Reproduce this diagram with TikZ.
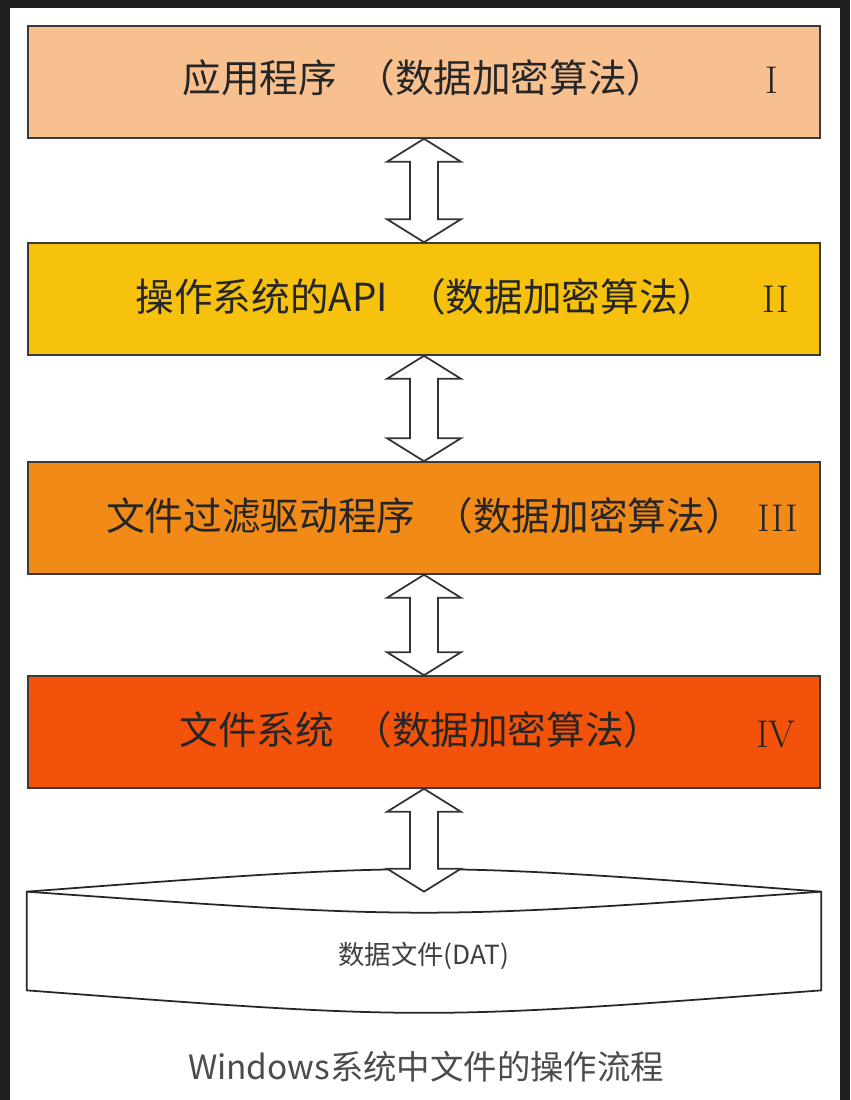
\documentclass[tikz,border=0pt]{standalone}
\usepackage{fontspec}
\newfontfamily\cjk{Noto Sans CJK SC}
\usetikzlibrary{calc}
\definecolor{layerA}{HTML}{F8C08F}
\definecolor{layerB}{HTML}{F6C20E}
\definecolor{layerC}{HTML}{F28A18}
\definecolor{layerD}{HTML}{F2520A}
\definecolor{edge}{HTML}{3A3A3A}
\begin{document}
\begin{tikzpicture}[x=0.02cm,y=-0.02cm]

\tikzstyle{layer}=[draw=edge, line width=0.9pt, minimum width=15.84cm, minimum height=2.24cm, inner sep=0pt]
\tikzstyle{title}=[font=\cjk\fontsize{22}{26}\selectfont, text=black!85]
\tikzstyle{num}=[font=\fontsize{22}{26}\selectfont, text=black!85]
\tikzstyle{twoway}=[draw=black!80, line width=1pt, fill=white, line join=miter]

% frame
\fill[black!88] (0,0) rectangle (850,1100);
\fill[white] (10,8) rectangle (840,1100);

\node [layer, fill=layerA] (app) at (424,82) {};
\node [layer, fill=layerB] (api) at (424,299) {};
\node [layer, fill=layerC] (flt) at (424,518) {};
\node [layer, fill=layerD] (fs) at (424,732) {};
\node [minimum width=15.88cm, minimum height=1.96cm, inner sep=0pt] (dat) at (424,941) {};

\node [title] at (424,78) {应用程序\hspace{0.5em}（数据加密算法）};
\node [title] at (426,297) {操作系统的API\hspace{0.5em}（数据加密算法）};
\node [title] at (425,516) {文件过滤驱动程序\hspace{0.5em}（数据加密算法）};
\node [title] at (421,730) {文件系统\hspace{0.5em}（数据加密算法）};
\node [num] at (772,80) {I};
\node [num] at (776,299) {II};
\node [num] at (778,518) {III};
\node [num] at (776,735) {IV};

% file shape
\draw[draw=black!85, line width=1pt, fill=white] (dat.north west) .. controls ($(dat.north)+(0,-30)$) .. (dat.north east)
  -- (dat.south east) .. controls ($(dat.south)+(0,30)$) .. (dat.south west) -- cycle;
\draw[black!85, line width=1pt] (dat.north west) .. controls ($(dat.north)+(0,28)$) .. (dat.north east);
\node [font=\cjk\fontsize{15}{18}\selectfont, text=black!75] at (424,956) {数据文件(DAT)};

% arrows
\foreach \a/\b in {app/api, api/flt, flt/fs, fs/dat}
  \draw[twoway] let \p1=(\a.south), \p2=(\b.north) in
    (\x1,\y1) -- (\x1-0.74cm,\y1-0.46cm) -- (\x1-0.28cm,\y1-0.46cm) -- (\x1-0.28cm,\y2+0.46cm)
    -- (\x1-0.74cm,\y2+0.46cm) -- (\x1,\y2) -- (\x1+0.74cm,\y2+0.46cm) -- (\x1+0.28cm,\y2+0.46cm)
    -- (\x1+0.28cm,\y1-0.46cm) -- (\x1+0.74cm,\y1-0.46cm) -- cycle;

\node [font=\cjk\fontsize{19}{22}\selectfont, text=black!70] (cap) at (426,1067) {Windows系统中文件的操作流程};

\end{tikzpicture}
\end{document}
